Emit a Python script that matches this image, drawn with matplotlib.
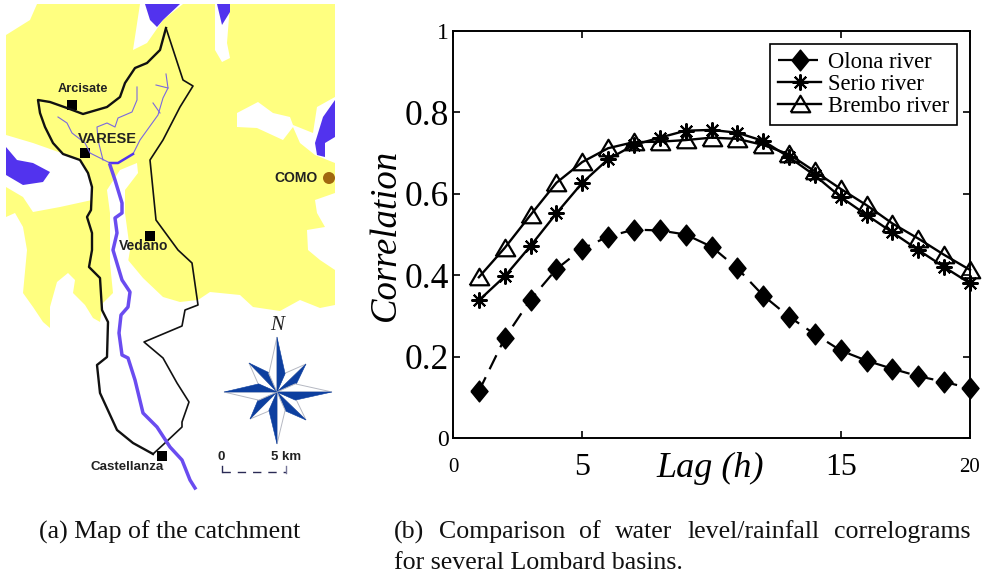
import numpy as np
import matplotlib
matplotlib.use("Agg")
import matplotlib.pyplot as plt
from matplotlib.patches import Polygon, Rectangle, Circle

# correlograms
LAGS = list(range(1, 21))
OLONA = [.115, .245, .34, .415, .465, .495, .512, .51, .50, .47, .417, .35, .298, .255, .215, .19, .17, .152, .138, .122]
SERIO = [.338, .397, .472, .552, .627, .685, .72, .738, .755, .757, .75, .73, .69, .645, .592, .548, .505, .462, .42, .38]
BREMBO = [.395, .467, .548, .627, .678, .712, .727, .728, .732, .738, .735, .72, .697, .655, .612, .572, .527, .49, .45, .413]
X_TICKS = [0, 5, 15, 20]
X_LABELS = ["0", "5", "15", "20"]
Y_TICKS = [0, .2, .4, .6, .8, 1]
Y_LABELS = ["0", "0.2", "0.4", "0.6", "0.8", "1"]

# map shapes, in reference pixels
YELLOW = [(6, 4), (335, 4), (335, 305), (320, 308), (300, 300), (280, 311), (253, 307), (240, 295), (210, 292),
          (198, 300), (180, 302), (163, 297), (143, 278), (128, 260), (110, 263), (113, 293), (103, 303), (100, 322),
          (93, 318), (85, 305), (73, 293), (75, 280), (68, 273), (57, 282), (50, 307), (50, 328), (43, 322),
          (33, 307), (23, 293), (27, 250), (23, 227), (15, 213), (6, 217)]
WHITE = [
    [(6, 4), (37, 4), (30, 20), (6, 35)],
    [(6, 135), (33, 143), (67, 155), (80, 160), (90, 177), (92, 200), (60, 207), (33, 212), (23, 197), (6, 187)],
    [(107, 190), (120, 170), (137, 163), (138, 173), (125, 190), (125, 213), (130, 250), (128, 262), (110, 265), (110, 213)],
    [(140, 4), (133, 50), (147, 43), (163, 20), (183, 4)],
    [(215, 4), (215, 50), (222, 62), (230, 58), (227, 43), (230, 4)],
    [(237, 113), (258, 102), (273, 113), (290, 117), (293, 125), (313, 133), (317, 107), (335, 97), (335, 163),
     (315, 155), (300, 143), (293, 127), (283, 140), (257, 128), (237, 127)],
    [(335, 193), (315, 200), (317, 213), (325, 227), (307, 230), (308, 250), (320, 260), (335, 270)],
]
LAKES = [
    [(6, 147), (17, 160), (33, 163), (50, 172), (43, 182), (23, 185), (6, 175)],
    [(145, 4), (150, 20), (157, 27), (163, 20), (180, 4)],
    [(217, 4), (222, 25), (230, 12), (230, 4)],
    [(335, 100), (323, 117), (315, 143), (317, 155), (325, 157), (325, 143), (335, 137)],
]
BORDER_THICK = [(166, 28), (160, 50), (147, 63), (135, 68), (125, 83), (120, 97), (107, 107), (83, 114), (67, 108),
                (50, 102), (38, 100), (40, 113), (45, 127), (53, 143), (63, 154), (80, 160), (88, 173), (92, 187),
                (91, 210), (87, 217), (92, 233), (92, 250), (89, 267), (100, 278), (102, 310), (108, 322), (107, 357),
                (97, 365), (100, 393), (117, 430), (133, 443), (153, 454)]
BORDER_THIN = [(153, 454), (165, 443), (182, 427), (182, 422), (189, 402), (177, 383), (163, 358), (144, 342), (182, 326),
               (185, 310), (198, 305), (192, 263), (178, 250), (156, 220), (150, 160), (163, 140), (180, 107), (193, 86),
               (183, 80), (166, 28)]
RIVER_MAIN = [(110, 165), (115, 180), (122, 203), (122, 213), (115, 218), (117, 233), (113, 250), (122, 280), (130, 292),
              (128, 307), (121, 315), (119, 333), (122, 355), (128, 358), (135, 380), (143, 413), (157, 427), (170, 447),
              (182, 460), (190, 480), (195, 488)]
RIVER_BRANCH = [(110, 163), (118, 163), (133, 154)]
RIVER_THIN = [
    [(58, 117), (67, 123), (72, 133), (85, 143), (90, 153), (110, 163)],
    [(137, 87), (137, 100), (132, 112), (118, 118), (115, 127), (107, 123), (97, 127), (98, 140), (103, 160)],
    [(133, 154), (140, 140), (158, 115), (163, 98), (168, 88), (166, 74)],
    [(168, 88), (156, 85)],
    [(160, 113), (153, 103)],
]
TOWNS = [(72, 105), (85, 153), (150, 236), (162, 456)]
TOWN_LABELS = [("Arcisate", 83, 89, 9.2), ("VARESE", 107, 139, 10.5), ("Vedano", 144, 246, 10), ("Castellanza", 127, 467, 9.6)]
COMPASS_TIPS = [(306, 364), (306, 420), (250, 419), (249, 363), (277, 337), (332, 392), (277, 444), (224, 392)]
COMPASS_CENTER = (277, 392)

BLUE = "#5233ee"
NAVY = "#0d3f9f"
SERIF = ["Liberation Serif", "DejaVu Serif"]
SANS = ["Liberation Sans", "DejaVu Sans"]

fig = plt.figure(figsize=(9.83, 5.79), dpi=100)

# the map lives on an overlay in pixel coordinates
bg = fig.add_axes([0, 0, 1, 1])
bg.set_xlim(0, 983)
bg.set_ylim(579, 0)
bg.axis("off")

bg.add_patch(Polygon(YELLOW, facecolor="#ffff80", edgecolor="none"))
for shape in WHITE:
    bg.add_patch(Polygon(shape, facecolor="white", edgecolor="none"))
for shape in LAKES:
    bg.add_patch(Polygon(shape, facecolor=BLUE, edgecolor="none"))

for path, lw in [(BORDER_THICK, 1.7), (BORDER_THIN, 1.2)]:
    bg.plot(*zip(*path), color="#111111", lw=lw)
for path in RIVER_THIN:
    bg.plot(*zip(*path), color="#7a68e0", lw=0.8)
bg.plot(*zip(*RIVER_BRANCH), color=BLUE, lw=1.8)
bg.plot(*zip(*RIVER_MAIN), color="#6a4cf0", lw=2.5)

for tx, ty in TOWNS:
    bg.add_patch(Rectangle((tx - 5, ty - 5), 10, 10, facecolor="black", edgecolor="none"))
for name, tx, ty, size in TOWN_LABELS:
    bg.text(tx, ty, name, family=SANS, fontsize=size, weight="bold", ha="center", va="center", color="#222222")
bg.add_patch(Circle((329, 178), 6, facecolor="#a0680f", edgecolor="none"))
bg.text(318, 178, "COMO", family=SANS, fontsize=10, weight="bold", ha="right", va="center", color="#222222")

# compass rose: each point is split in a dark and a pale half, diagonals go under
cx, cy = COMPASS_CENTER
for tip in COMPASS_TIPS:
    angle = np.arctan2(tip[1] - cy, tip[0] - cx)
    off = np.radians(24)
    side_r = (cx + 20 * np.cos(angle + off), cy + 20 * np.sin(angle + off))
    side_l = (cx + 20 * np.cos(angle - off), cy + 20 * np.sin(angle - off))
    bg.add_patch(Polygon([(cx, cy), tip, side_l], facecolor="white", edgecolor="#b5b8c2", lw=0.7))
    bg.add_patch(Polygon([(cx, cy), tip, side_r], facecolor=NAVY, edgecolor=NAVY, lw=0.4))
bg.text(277, 326, "N", family=SERIF, style="italic", fontsize=15, ha="center", va="center", color="#222222")

bg.text(221, 457, "0", family=SANS, fontsize=9.5, weight="bold", ha="center", va="center", color="#222222")
bg.text(286, 457, "5 km", family=SANS, fontsize=9.5, weight="bold", ha="center", va="center", color="#222222")
bg.plot([222, 286], [472, 472], color="#2a2a55", lw=1, linestyle=(0, (6, 5)))
bg.plot([222, 222], [466, 472], color="#2a2a55", lw=1)
bg.plot([286, 286], [466, 473], color="#777799", lw=1)

# correlogram panel
ax = fig.add_axes([453 / 983, 1 - 438 / 579, (970 - 453) / 983, (438 - 31) / 579])
ax.patch.set_alpha(0)
diamond = [(-0.82, 0), (0, 1), (0.82, 0), (0, -1), (-0.82, 0)]
triangle = [(-1, -0.8), (1, -0.8), (0, 0.9), (-1, -0.8)]
ax.plot(LAGS, OLONA, color="black", lw=1.6, linestyle=(0, (7, 4)), marker=diamond, markersize=15,
        markerfacecolor="black", markeredgecolor="black", label="Olona river", clip_on=False)
ax.plot(LAGS, SERIO, color="black", lw=1.7, marker=(8, 2, 0), markersize=11.5, markeredgewidth=1.5,
        label="Serio river", clip_on=False)
ax.plot(LAGS, BREMBO, color="black", lw=1.7, marker=triangle, markersize=14, markerfacecolor="none",
        markeredgecolor="black", markeredgewidth=1.6, label="Brembo river", clip_on=False)

ax.set_xlim(0, 20)
ax.set_ylim(0, 1)
ax.set_xticks(X_TICKS)
ax.set_xticklabels(X_LABELS, family=SERIF, fontsize=23, va="center")
ax.set_yticks(Y_TICKS)
ax.set_yticklabels(Y_LABELS, family=SERIF, fontsize=25.5)
ax.tick_params(direction="in", top=True, right=True, length=5, width=1.2)
ax.tick_params(axis="x", pad=21)
ax.tick_params(axis="y", pad=3)
ax.get_xticklabels()[0].set_fontsize(15)
ax.get_xticklabels()[3].set_fontsize(15)
ax.get_yticklabels()[0].set_fontsize(17)
ax.get_yticklabels()[5].set_fontsize(17)
for spine in ax.spines.values():
    spine.set_linewidth(1.4)

bg.text(386, 235, "Correlation", family=SERIF, style="italic", fontsize=26.5, rotation=90, ha="center", va="center")
bg.text(710, 468, "Lag (h)", family=SERIF, style="italic", fontsize=26, ha="center", va="center")

leg = ax.legend(loc="upper right", bbox_to_anchor=(0.975, 0.968), bbox_transform=ax.transAxes,
                prop={"family": SERIF, "size": 16.3}, frameon=True, fancybox=False, framealpha=1, edgecolor="black",
                borderaxespad=0, borderpad=0.35, labelspacing=0.05, handlelength=1.9, handletextpad=0.3)
leg.get_frame().set_linewidth(1.2)

CAPTION_A = "(a) Map of the catchment"
CAPTION_B1 = "(b) Comparison of water level/rainfall correlograms"
CAPTION_B2 = "for several Lombard basins."
bg.text(170, 532, CAPTION_A, family=SERIF, fontsize=18.6, ha="center", va="center", color="#111111")
bg.text(394, 563, CAPTION_B2, family=SERIF, fontsize=18.6, ha="left", va="center", color="#111111")

# first line of (b) is justified, so spread the words over the full width
renderer = fig.canvas.get_renderer()
words = [bg.text(394, 532, w, family=SERIF, fontsize=18.6, ha="left", va="center", color="#111111") for w in CAPTION_B1.split()]
widths = [t.get_window_extent(renderer).width for t in words]
gap = (970 - 394 - sum(widths)) / (len(words) - 1)
pos = 394
for t, w in zip(words, widths):
    t.set_x(pos)
    pos += w + gap

fig.savefig("out.png", dpi=100)
